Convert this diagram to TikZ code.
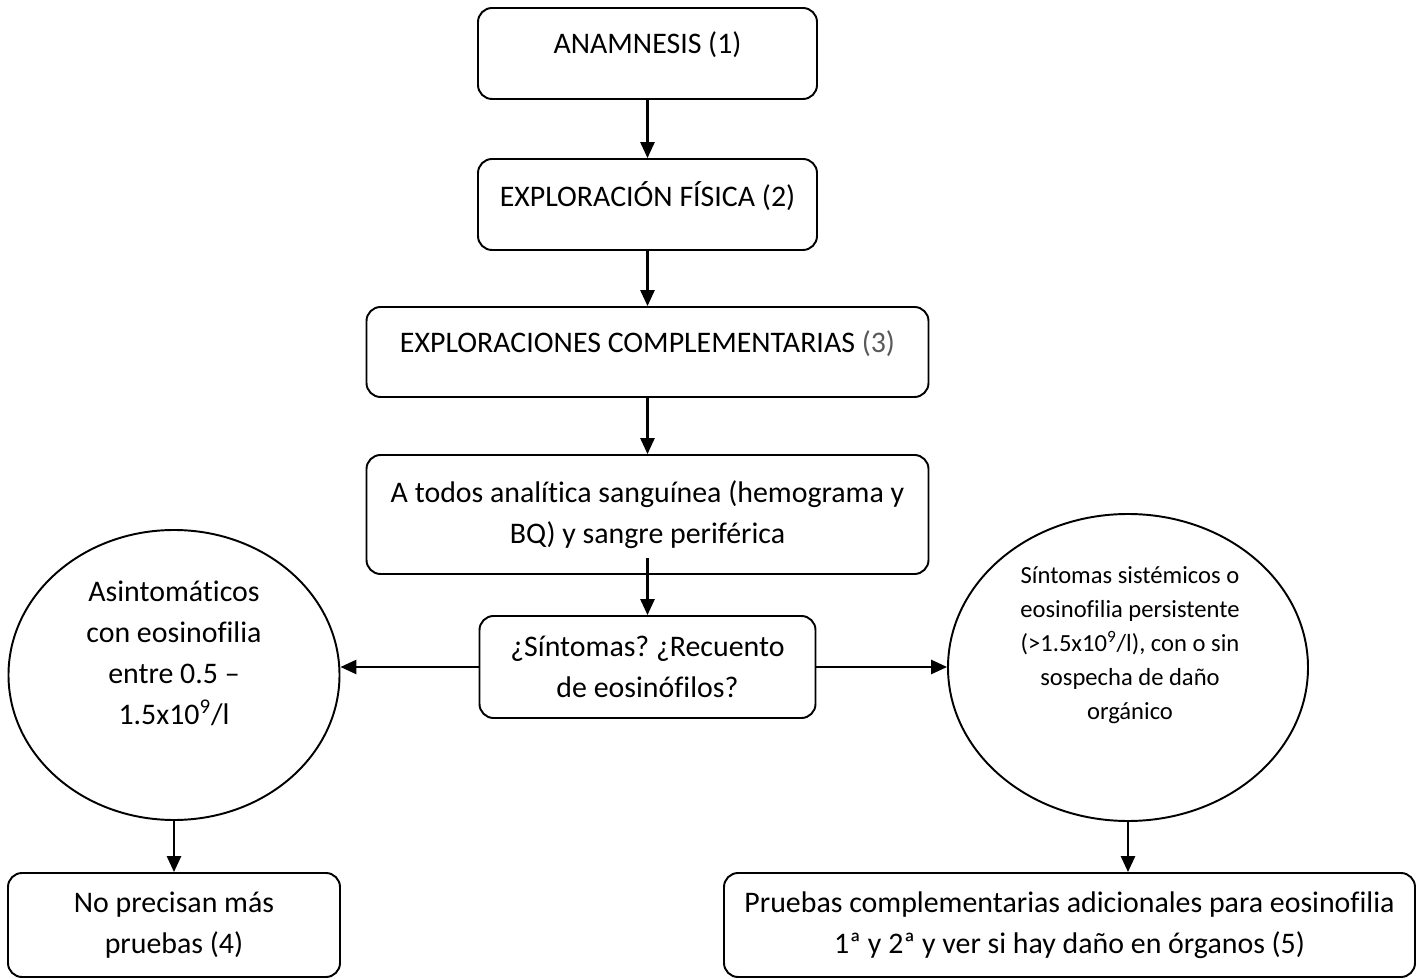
\documentclass[tikz,border=0pt]{standalone}
\usepackage{fontspec}
\setmainfont{Carlito}[Ligatures=NoCommon]
\frenchspacing
\usetikzlibrary{arrows.meta,shapes.geometric}
\definecolor{dimgrey}{RGB}{89,89,89}
\tikzset{
  >={Triangle[length=9pt,width=8pt]},
  box/.style={draw,rounded corners=8pt,line width=1.1pt,align=center,
    inner sep=0pt,font=\fontsize{17}{23.3}\selectfont},
  oneline/.style={text depth=0.42cm},
  oval/.style={draw,ellipse,line width=1.1pt,inner sep=0pt},
  ovaltext/.style={align=center,font=\fontsize{17}{23.3}\selectfont},
  smalltext/.style={align=center,font=\fontsize{14}{19.3}\selectfont},
  flow/.style={->,line width=1.2pt},
}

\begin{document}
\begin{tikzpicture}
  \useasboundingbox (0,0) rectangle (28.42,-19.58);
  % central column
  \node[box,oneline,minimum width=6.78cm,minimum height=1.82cm] (anam) at (12.95,-1.07) {ANAMNESIS (1)};
  \node[box,oneline,minimum width=6.78cm,minimum height=1.82cm] (expl) at (12.95,-4.09) {EXPLORACIÓN FÍSICA (2)};
  \node[box,oneline,minimum width=11.24cm,minimum height=1.80cm] (comp) at (12.95,-7.04) {EXPLORACIONES COMPLEMENTARIAS \textcolor{dimgrey}{(3)}};
  \node[box,minimum width=11.24cm,minimum height=2.38cm] (sang) at (12.95,-10.29) {A todos analítica sanguínea (hemograma y\\BQ) y sangre periférica};
  \node[box,minimum width=6.72cm,minimum height=2.04cm] (sint) at (12.95,-13.34) {¿Síntomas? ¿Recuento\\de eosinófilos?};
  % branches
  \node[oval,minimum width=6.62cm,minimum height=5.8cm] (asint) at (3.48,-13.5) {};
  \node[ovaltext] (asintxt) at (3.48,-13.06) {Asintomáticos\\con eosinofilia\\entre 0.5 –\\1.5x10\textsuperscript{9}/l};
  \node[oval,minimum width=7.2cm,minimum height=6.14cm] (sist) at (22.56,-13.35) {};
  \node[smalltext] (sistxt) at (22.6,-12.9) {Síntomas sistémicos o\\eosinofilia persistente\\(>1.5x10\textsuperscript{9}/l), con o sin\\sospecha de daño\\orgánico};
  \node[box,minimum width=6.64cm,minimum height=2.08cm] (nomas) at (3.48,-18.5) {No precisan más\\pruebas (4)};
  \node[box,minimum width=13.82cm,minimum height=2.08cm] (prue) at (21.39,-18.5) {Pruebas complementarias adicionales para eosinofilia\\1ª y 2ª y ver si hay daño en órganos (5)};
  % connectors
  \draw[flow] (anam) -- (expl);
  \draw[flow] (expl) -- (comp);
  \draw[flow] (comp) -- (sang);
  \draw[flow] ([yshift=0.34cm]sang.south) -- (sint);
  \draw[flow] (sint.west) -- (sint.west -| asint.east);
  \draw[flow] (sint.east) -- (sint.east -| sist.west);
  \draw[flow] (asint) -- (nomas);
  \draw[flow] (sist.south) -- (sist.south |- prue.north);
\end{tikzpicture}
\end{document}
